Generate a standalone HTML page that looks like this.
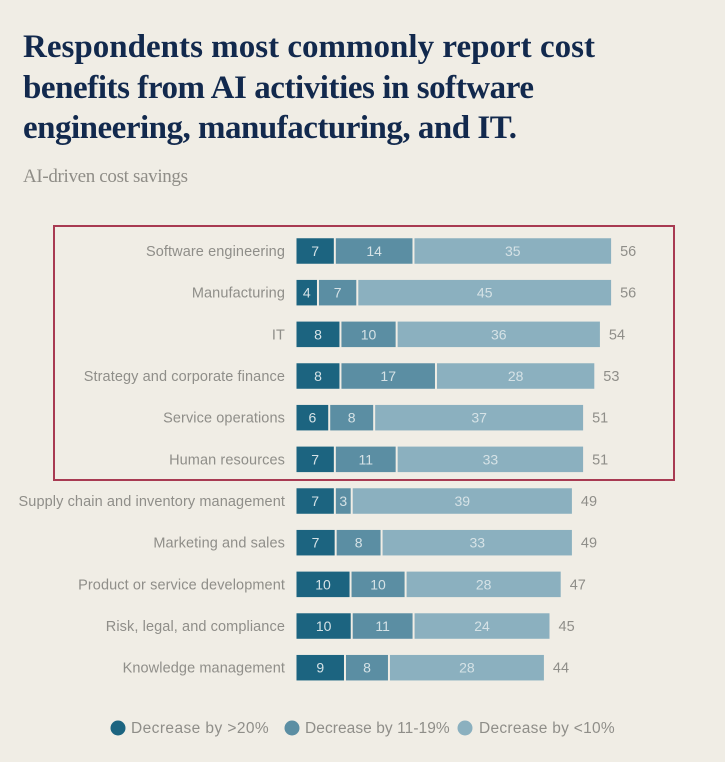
<!DOCTYPE html>
<html lang="en">
<head>
<meta charset="utf-8">
<title>AI-driven cost savings</title>
<style>
html,body{margin:0;padding:0;background:#f0ede5;}
body{width:725px;height:762px;overflow:hidden;}
svg{display:block;}
text{font-family:"Liberation Sans",sans-serif;}
.title{font-family:"Liberation Serif",serif;font-weight:700;font-size:33px;fill:#12294d;}
.subtitle{font-family:"Liberation Serif",serif;font-size:19px;fill:#8f8d87;}
.cat{font-size:14.5px;fill:#8f8e89;text-anchor:end;letter-spacing:.1px;}
.val{font-size:14px;fill:#d5e2e6;text-anchor:middle;}
.total{font-size:14.5px;fill:#8f8e89;}
.leg{font-size:15.5px;fill:#8f8e89;letter-spacing:.3px;}
</style>
</head>
<body>
<svg id="chart" width="725" height="762" viewBox="0 0 725 762" xmlns="http://www.w3.org/2000/svg">
  <rect x="0" y="0" width="725" height="762" fill="#f0ede5"/>
  <text class="title" x="23" y="57" textLength="572" lengthAdjust="spacing">Respondents most commonly report cost</text>
  <text class="title" x="23" y="98" textLength="511" lengthAdjust="spacing">benefits from AI activities in software</text>
  <text class="title" x="23" y="138" textLength="494" lengthAdjust="spacing">engineering, manufacturing, and IT.</text>
  <text class="subtitle" x="23" y="182" textLength="165" lengthAdjust="spacing">AI-driven cost savings</text>
  <rect x="54" y="226" width="620" height="254" fill="none" stroke="#a83a52" stroke-width="2"/>
  <g id="rows"></g>
  <g id="legend">
    <g>
      <circle cx="118" cy="728" r="7.5" fill="#1c6480"/>
      <text class="leg" x="131" y="733" textLength="138" lengthAdjust="spacing">Decrease by &gt;20%</text>
    </g>
    <g>
      <circle cx="292" cy="728" r="7.5" fill="#5b8ea3"/>
      <text class="leg" x="305" y="733" textLength="145" lengthAdjust="spacing">Decrease by 11-19%</text>
    </g>
    <g>
      <circle cx="465" cy="728" r="7.5" fill="#8bb0bf"/>
      <text class="leg" x="479" y="733" textLength="136" lengthAdjust="spacing">Decrease by &lt;10%</text>
    </g>
  </g>
</svg>
<script>
const categories = ["Software engineering","Manufacturing","IT","Strategy and corporate finance","Service operations","Human resources","Supply chain and inventory management","Marketing and sales","Product or service development","Risk, legal, and compliance","Knowledge management"];
const over20 = [7,4,8,8,6,7,7,7,10,10,9];
const mid11to19 = [14,7,10,17,8,11,3,8,10,11,8];
const under10 = [35,45,36,28,37,33,39,33,28,24,28];
const totals = [56,56,54,53,51,51,49,49,47,45,44];

const SVG_NS = "http://www.w3.org/2000/svg";
const x0 = 296.5, unit = 5.6, rowTop = 251, rowStep = 41.67, barH = 25.5, gap = 2;
const xScale = function (v) { return v * unit + 1; };
const yScale = function (i) { return rowTop + i * rowStep; };
const colors = ["#1c6480", "#5b8ea3", "#8bb0bf"];
const segNames = ["over-20", "11-19", "under-10"];
const rowsG = document.getElementById("rows");

function make(tag, attrs, txt) {
  const el = document.createElementNS(SVG_NS, tag);
  Object.keys(attrs).forEach(function (k) { el.setAttribute(k, attrs[k]); });
  if (txt !== undefined) el.textContent = txt;
  return el;
}

categories.forEach(function (cat, i) {
  const cy = yScale(i);
  const row = make("g", {});
  
  

  const label = make("text", { class: "cat", x: 285, y: cy + 5 }, cat);
  
  
  row.appendChild(label);

  const vals = [over20[i], mid11to19[i], under10[i]];
  const sum = vals[0] + vals[1] + vals[2];
  const fullW = xScale(totals[i]);
  let cursor = x0;
  vals.forEach(function (v, s) {
    const w = v / sum * fullW;
    const drawW = s < 2 ? w - gap : w;
    const bar = make("rect", { x: cursor, y: cy - barH / 2, width: Math.max(drawW, 0), height: barH, fill: colors[s] });
    
    
    row.appendChild(bar);
    const t = make("text", { class: "val", x: cursor + drawW / 2, y: cy + 5 }, String(v));
    
    
    row.appendChild(t);
    cursor += w;
  });

  const total = make("text", { class: "total", x: x0 + fullW + 9, y: cy + 5 }, String(totals[i]));
  
  
  row.appendChild(total);
  rowsG.appendChild(row);
});
</script>
</body>
</html>
